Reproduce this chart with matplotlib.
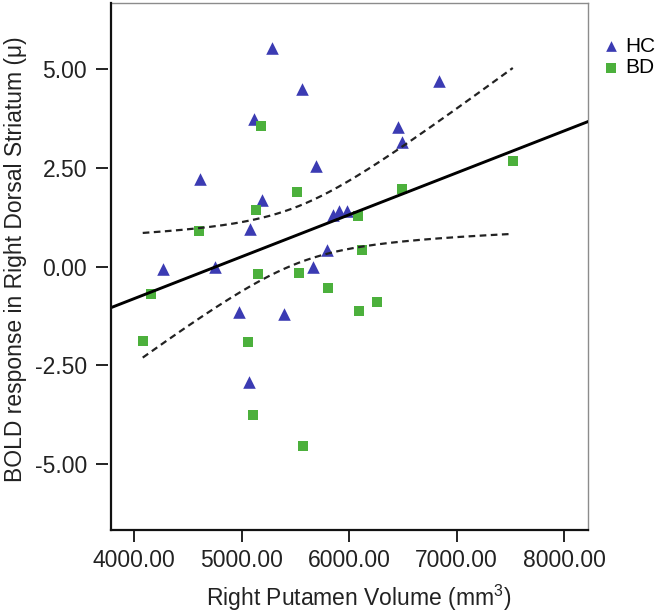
import matplotlib
matplotlib.use("Agg")
import matplotlib.pyplot as plt  # noqa: E402
import numpy as np  # noqa: E402
from matplotlib.ticker import FormatStrFormatter  # noqa: E402

plt.rcParams["font.family"] = ["Liberation Sans", "DejaVu Sans"]
plt.rcParams["mathtext.fontset"] = "custom"
plt.rcParams["mathtext.rm"] = "Liberation Sans"
plt.rcParams["mathtext.default"] = "regular"

# data
hc_volume = [5284, 5563, 5116, 4614, 5693, 5191, 5079, 4273, 4753, 5850,
             5905, 5985, 5668, 5793, 4980, 5398, 5073, 6837, 6453, 6496]
hc_bold = [5.54, 4.50, 3.73, 2.22, 2.55, 1.68, 0.96, -0.07, 0.00, 1.30,
           1.42, 1.40, 0.00, 0.42, -1.14, -1.20, -2.91, 4.70, 3.54, 3.16]
bd_volume = [5179, 5513, 5135, 4602, 6081, 6496, 7523, 6121, 5156, 5535,
             4158, 5805, 6096, 6258, 4081, 5060, 5110, 5570]
bd_bold = [3.57, 1.90, 1.44, 0.91, 1.28, 1.97, 2.67, 0.42, -0.18, -0.15,
           -0.69, -0.55, -1.13, -0.89, -1.87, -1.91, -3.75, -4.54]

x_ticks = [4000, 5000, 6000, 7000, 8000]
y_ticks = [5.0, 2.5, 0.0, -2.5, -5.0]
x_lim = (3783, 8220)
y_lim = (-6.67, 6.68)

BLUE = "#3b3bb3"
GREEN = "#4cb03c"
FS = 16.5

# pooled linear fit with 95% confidence band of the mean
x_all = np.array(hc_volume + bd_volume, dtype=float)
y_all = np.array(hc_bold + bd_bold, dtype=float)
n = len(x_all)
slope, intercept = np.polyfit(x_all, y_all, 1)
resid = y_all - (slope * x_all + intercept)
s = np.sqrt(np.sum(resid ** 2) / (n - 2))
t_crit = 2.028  # t(0.975, df=36)
xx = np.linspace(x_all.min(), x_all.max(), 200)
sxx = np.sum((x_all - x_all.mean()) ** 2)
half = t_crit * s * np.sqrt(1.0 / n + (xx - x_all.mean()) ** 2 / sxx)
fit_xx = slope * xx + intercept

fig = plt.figure(figsize=(6.6, 6.16), dpi=100)
ax = fig.add_axes([0.1677, 0.1396, 0.7228, 0.8555])

ax.scatter(hc_volume, hc_bold, marker="^", s=82, color=BLUE, linewidths=0,
           label="HC", zorder=3)
ax.scatter(bd_volume, bd_bold, marker="s", s=60, color=GREEN, linewidths=0,
           label="BD", zorder=3)

xl = np.array(x_lim, dtype=float)
ax.plot(xl, slope * xl + intercept, color="black", lw=2.1, zorder=4)
ax.plot(xx, fit_xx + half, color="#222222", lw=1.6, ls=(0, (3, 2)), zorder=4)
ax.plot(xx, fit_xx - half, color="#222222", lw=1.6, ls=(0, (3, 2)), zorder=4)

ax.set_xlim(*x_lim)
ax.set_ylim(*y_lim)
ax.set_xticks(x_ticks)
ax.set_yticks(y_ticks)
ax.xaxis.set_major_formatter(FormatStrFormatter("%.2f"))
ax.yaxis.set_major_formatter(FormatStrFormatter("%.2f"))

for side in ("top", "right"):
    ax.spines[side].set_color("#8c8c8c")
    ax.spines[side].set_linewidth(1.0)
ax.spines["bottom"].set_linewidth(1.6)
ax.spines["bottom"].set_color("#111111")
# y ticks sit slightly off the frame, like the original
ax.spines["left"].set_position(("outward", 2))
ax.spines["left"].set_visible(False)
ax.plot([0, 0], [0, 1], transform=ax.transAxes, color="#111111", lw=1.6,
        clip_on=False, zorder=5)

ax.tick_params(axis="both", direction="out", length=8.5, width=1.4,
               color="#222222", labelsize=FS, labelcolor="#222222")
ax.tick_params(axis="x", pad=5)
ax.tick_params(axis="y", pad=6.5)

ax.set_xlabel("Right Putamen Volume (mm$^{3}$)", fontsize=FS, color="#222222")
ax.set_ylabel("BOLD response in Right Dorsal Striatum (\u03bc)", fontsize=FS,
              color="#222222")
ax.xaxis.set_label_coords(0.52, -0.1)
ax.yaxis.set_label_coords(-0.175, 0.513)

ax.legend(loc="upper left", bbox_to_anchor=(0.917, 0.94),
          bbox_transform=fig.transFigure, frameon=False, fontsize=15,
          handlelength=0.6, handletextpad=0.35, borderpad=0, borderaxespad=0,
          labelspacing=0.1, markerscale=0.85)

fig.savefig("out.png", dpi=100)
